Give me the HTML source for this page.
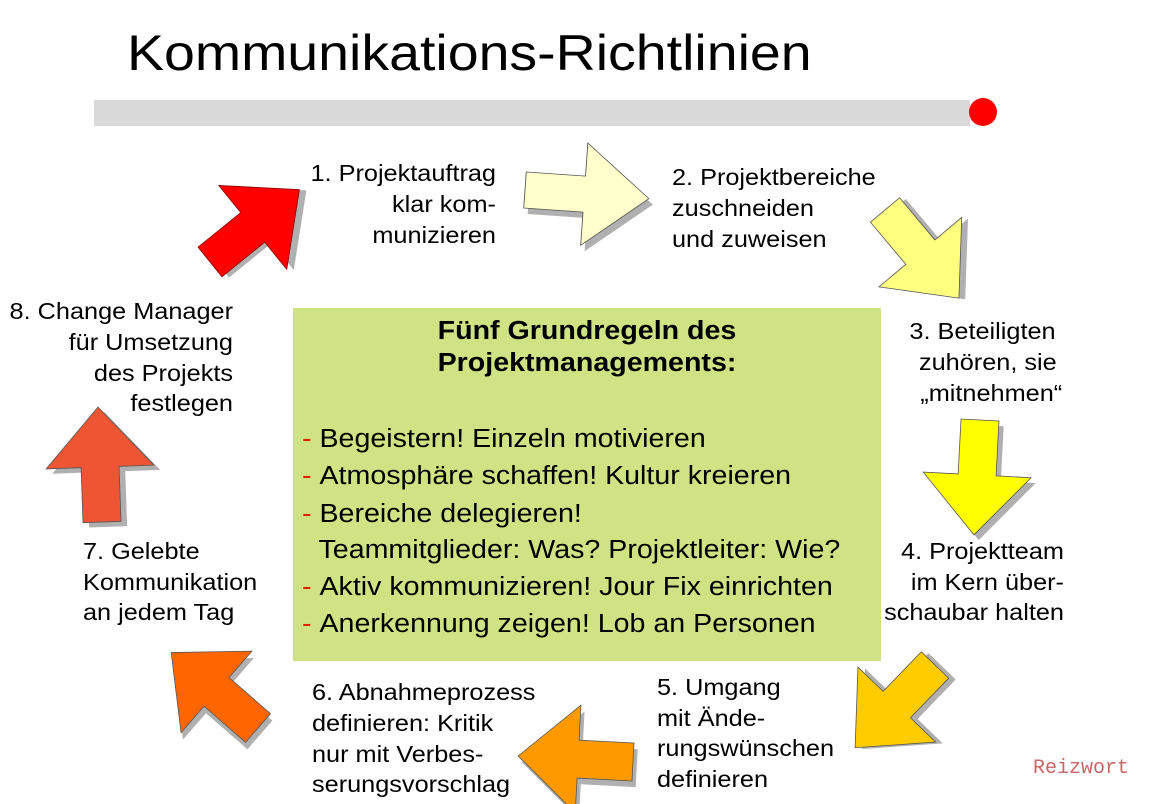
<!DOCTYPE html>
<html><head><meta charset="utf-8">
<style>
html,body{margin:0;padding:0;background:#fff;}
svg{display:block;}
text{font-family:"Liberation Sans",Arial,sans-serif;fill:#000;}
</style></head>
<body>
<svg width="1150" height="804" viewBox="0 0 1150 804" xmlns="http://www.w3.org/2000/svg">
<defs>
<polygon id="arr" points="0,-19 55,-19 55,-54 115,0 55,54 55,19 0,19"/>
</defs>
<text x="127" y="70" font-size="50" transform="translate(127,0) scale(1.11,1) translate(-127,0)">Kommunikations-Richtlinien</text>
<rect x="94" y="100" width="876" height="26" fill="#d9d9d9"/>
<circle cx="983" cy="112" r="14" fill="#ff0000"/>

<rect x="293" y="308" width="588" height="353" fill="#cfe384"/>
<g transform="translate(587,0) scale(1.1,1) translate(-587,0)">
<text font-size="26" font-weight="bold" text-anchor="middle"><tspan x="587" y="339">Fünf Grundregeln des</tspan><tspan x="587" y="371">Projektmanagements:</tspan></text>
</g>
<g font-size="26" transform="translate(302,0) scale(1.1,1) translate(-302,0)">
<text x="302" y="447"><tspan fill="#e02000">- </tspan>Begeistern! Einzeln motivieren</text>
<text x="302" y="484"><tspan fill="#e02000">- </tspan>Atmosphäre schaffen! Kultur kreieren</text>
<text x="302" y="522"><tspan fill="#e02000">- </tspan>Bereiche delegieren!</text>
<text x="317" y="558">Teammitglieder: Was? Projektleiter: Wie?</text>
<text x="302" y="595"><tspan fill="#e02000">- </tspan>Aktiv kommunizieren! Jour Fix einrichten</text>
<text x="302" y="632"><tspan fill="#e02000">- </tspan>Anerkennung zeigen! Lob an Personen</text>
</g>

<g stroke-width="0.8">
<g transform="translate(210,262) rotate(-39)"><use href="#arr" fill="#b0b0b0" transform="translate(5,5)"/><use href="#arr" fill="#ff0000" stroke="#800"/></g>
<g transform="translate(525,190) rotate(4) scale(1.08,0.95)"><use href="#arr" fill="#b0b0b0" transform="translate(4,6)"/><use href="#arr" fill="#ffffcc" stroke="#555"/></g>
<g transform="translate(885,210) rotate(50)"><use href="#arr" fill="#b0b0b0" transform="translate(5,-4)"/><use href="#arr" fill="#ffff80" stroke="#555"/></g>
<g transform="translate(980,420) rotate(93)"><use href="#arr" fill="#b0b0b0" transform="translate(5,-5)"/><use href="#arr" fill="#ffff00" stroke="#555"/></g>
<g transform="translate(935,665) rotate(134)"><use href="#arr" fill="#b0b0b0" transform="translate(-4,-6)"/><use href="#arr" fill="#ffcc00" stroke="#555"/></g>
<g transform="translate(633,762) rotate(183)"><use href="#arr" fill="#b0b0b0" transform="translate(-4,-6)"/><use href="#arr" fill="#ff9900" stroke="#555"/></g>
<g transform="translate(258,728) rotate(-139)"><use href="#arr" fill="#b0b0b0" transform="translate(-6,-4)"/><use href="#arr" fill="#ff6600" stroke="#555"/></g>
<g transform="translate(102,522) rotate(-92)"><use href="#arr" fill="#b0b0b0" transform="translate(-5,6)"/><use href="#arr" fill="#ee5533" stroke="#555"/></g>
</g>

<g font-size="23">
<g transform="translate(496,0) scale(1.1,1) translate(-496,0)"><text text-anchor="end"><tspan x="496" y="181">1. Projektauftrag</tspan><tspan x="496" y="212">klar kom-</tspan><tspan x="496" y="243">munizieren</tspan></text></g>
<g transform="translate(672,0) scale(1.1,1) translate(-672,0)"><text><tspan x="672" y="185">2. Projektbereiche</tspan><tspan x="672" y="216">zuschneiden</tspan><tspan x="672" y="247">und zuweisen</tspan></text></g>
<g transform="translate(1060,0) scale(1.1,1) translate(-1060,0)"><text text-anchor="end"><tspan x="1056" y="339">3. Beteiligten</tspan><tspan x="1057" y="370">zuhören, sie</tspan><tspan x="1062" y="401">„mitnehmen“</tspan></text></g>
<g transform="translate(1064,0) scale(1.1,1) translate(-1064,0)"><text text-anchor="end"><tspan x="1064" y="559">4. Projektteam</tspan><tspan x="1064" y="590">im Kern über-</tspan><tspan x="1064" y="620">schaubar halten</tspan></text></g>
<g transform="translate(657,0) scale(1.1,1) translate(-657,0)"><text><tspan x="657" y="695">5. Umgang</tspan><tspan x="657" y="726">mit Ände-</tspan><tspan x="657" y="756">rungswünschen</tspan><tspan x="657" y="787">definieren</tspan></text></g>
<g transform="translate(312,0) scale(1.1,1) translate(-312,0)"><text><tspan x="312" y="700">6. Abnahmeprozess</tspan><tspan x="312" y="731">definieren: Kritik</tspan><tspan x="312" y="762">nur mit Verbes-</tspan><tspan x="312" y="792">serungsvorschlag</tspan></text></g>
<g transform="translate(83,0) scale(1.1,1) translate(-83,0)"><text><tspan x="83" y="559">7. Gelebte</tspan><tspan x="83" y="590">Kommunikation</tspan><tspan x="83" y="620">an jedem Tag</tspan></text></g>
<g transform="translate(233,0) scale(1.1,1) translate(-233,0)"><text text-anchor="end"><tspan x="233" y="319">8. Change Manager</tspan><tspan x="233" y="350">für Umsetzung</tspan><tspan x="233" y="381">des Projekts</tspan><tspan x="233" y="411">festlegen</tspan></text></g>
</g>
<text x="1033" y="773" font-size="20" style="font-family:'Liberation Mono',monospace;fill:#c66">Reizwort</text>
</svg>
</body></html>
